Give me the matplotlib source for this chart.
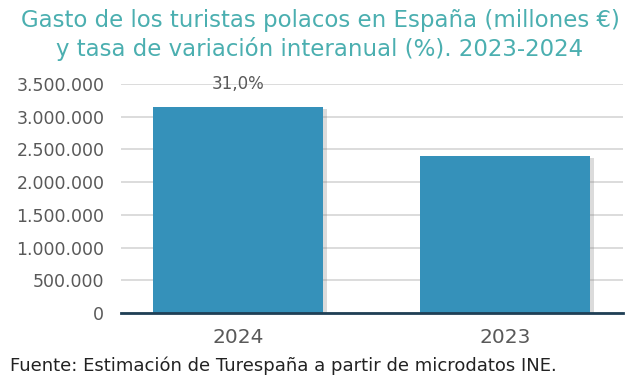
import matplotlib
matplotlib.use("Agg")
import matplotlib.pyplot as plt
from matplotlib import patheffects as pe
from matplotlib.ticker import FuncFormatter

categories = ["2024", "2023"]
values = [3153000, 2404000]
labels = ["31,0%", ""]
yticks = [0, 500000, 1000000, 1500000, 2000000, 2500000, 3000000, 3500000]

title = "Gasto de los turistas polacos en España (millones €)\ny tasa de variación interanual (%). 2023-2024"
source = "Fuente: Estimación de Turespaña a partir de microdatos INE."

FONT = ["DejaVu Sans"]
plt.rcParams["font.family"] = FONT

fig = plt.figure(figsize=(6.4, 3.84), dpi=100)
ax = fig.add_axes([121/640, 1-313/384, (623-121)/640, (313-84)/384])

x = list(range(len(categories)))
bars = ax.bar(x, values, width=0.64, color="#3591BA", zorder=3)
for b in bars:
    b.set_path_effects([pe.SimplePatchShadow(offset=(2.5, -1.5), shadow_rgbFace="#888888", alpha=0.3), pe.Normal()])

ax.set_xlim(-0.438, 1.442)
ax.set_ylim(0, 3500000)
ax.set_yticks(yticks)
ax.yaxis.set_major_formatter(FuncFormatter(lambda v, p: f"{int(v):,}".replace(",", ".")))
ax.set_xticks(x)
ax.set_xticklabels(categories)
ax.tick_params(axis="both", length=0, labelcolor="#595959")
ax.tick_params(axis="y", pad=12, labelsize=12.5)
ax.tick_params(axis="x", pad=11, labelsize=14.5)
ax.grid(axis="y", color="#D9D9D9", linewidth=1.3, zorder=0)
for s in ["top", "right", "left"]:
    ax.spines[s].set_visible(False)
ax.spines["bottom"].set_color("#1F3F55")
ax.spines["bottom"].set_linewidth(2)
ax.spines["bottom"].set_zorder(4)

for xi, v, lab in zip(x, values, labels):
    if lab:
        ax.text(xi, 3500000, lab, ha="center", va="center", fontsize=12, color="#595959", zorder=5)

fig.text(0.5, 1-35/384, title, ha="center", va="center", fontsize=16.5, color="#4BAFB0", linespacing=1.25)
fig.text(10/640, 1-366/384, source, ha="left", va="center", fontsize=13, color="#222222")

fig.savefig("out.png", dpi=100)
